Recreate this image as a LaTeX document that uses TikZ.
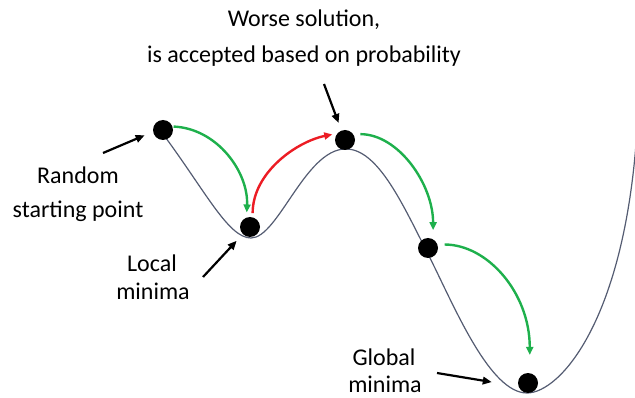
\documentclass[tikz,border=0pt]{standalone}
\usepackage{fontspec}
\setmainfont{Carlito}
\definecolor{curvegray}{RGB}{84,92,114}
\definecolor{movegreen}{RGB}{30,176,76}
\definecolor{movered}{RGB}{236,28,36}
\usetikzlibrary{arrows.meta,positioning,calc}

\begin{document}
\begin{tikzpicture}[x=1pt,y=-1pt,
    ball/.style={circle, fill=black, minimum size=20pt, inner sep=0pt},
    lbl/.style={font=\fontsize{24}{28}\selectfont, anchor=base, inner sep=0pt},
    move/.style={line width=2.4pt, -{Triangle[length=8pt,width=7pt]}},
    pointer/.style={line width=2.2pt, black, -{Triangle[length=9pt,width=7.5pt]}}]
            \useasboundingbox (0,0) rectangle (635,398);

            % Cost landscape
            \draw[curvegray, line width=1.2pt] (160,130)
                .. controls (205,190) and (228,238) .. (251,238)
                .. controls (278,238) and (305,150) .. (345,149)
                .. controls (378,148) and (403,205) .. (430,258)
                .. controls (455,308) and (490,393) .. (527,393)
                .. controls (560,393) and (625,320) .. (637,130);

            % Positions
            \node[ball] (d1) at (163,130) {};
            \node[ball] (d2) at (250,227) {};
            \node[ball] (d3) at (345,140) {};
            \node[ball] (d4) at (428,248) {};
            \node[ball] (d5) at (528,383) {};

            % Moves
            \draw[move, movegreen, shorten <=1pt, shorten >=5pt] (d1.20) .. controls +(45,2) and +(2,-45) .. (d2.110);
            \draw[move, movered, shorten <=4pt, shorten >=5pt] (d2.75) .. controls +(0,-45) and +(-40,8) .. (d3.140);
            \draw[move, movegreen, shorten <=7pt, shorten >=9pt] (d3.35) .. controls +(45,0) and +(0,-55) .. (d4.60);
            \draw[move, movegreen, shorten <=7pt, shorten >=18pt] (d4.20) .. controls +(50,0) and +(0,-80) .. (d5.80);

            % Labels
            \node[lbl] (worse) at (304,27) {Worse solution,};
            \node[lbl] (accept) at (304,63) {is accepted based on probability};
            \node[lbl] (random) at (78,184) {Random};
            \node[lbl] (start) at (78,218) {starting point};
            \node[lbl] (local) at (152,272) {Local};
            \node[lbl] (localmin) at (153,300) {minima};
            \node[lbl] (global) at (384,365) {Global};
            \node[lbl] (globalmin) at (385,392) {minima};

            % Pointers
            \coordinate (rtail) at (103,153);
            \coordinate (wtail) at (324,84);
            \coordinate (ltail) at (203,277);
            \coordinate (gtail) at (437,373);
            \draw[pointer, shorten >=9pt] (rtail) -- (d1.190);
            \draw[pointer, shorten >=8pt] (wtail) -- (d3);
            \draw[pointer, shorten >=9pt] (ltail) -- (d2.225);
            \draw[pointer, shorten >=27pt] (gtail) -- (d5.200);
\end{tikzpicture}
\end{document}
